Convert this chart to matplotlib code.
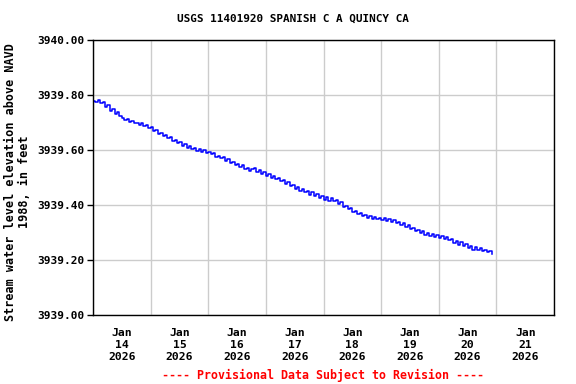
import matplotlib
matplotlib.use("Agg")
import matplotlib.pyplot as plt
import matplotlib.dates as mdates
from datetime import datetime, timedelta

title = "USGS 11401920 SPANISH C A QUINCY CA"
ylabel = "Stream water level elevation above NAVD\n1988, in feet"
footer = "---- Provisional Data Subject to Revision ----"

start_time = datetime(2026, 1, 14, 0, 0)
step_hours = 1
# hourly gage height readings (ft)
elevation = [
    3939.780, 3939.774, 3939.781, 3939.770, 3939.774, 3939.758, 3939.762, 3939.742,
    3939.750, 3939.732, 3939.740, 3939.722, 3939.718, 3939.710, 3939.712, 3939.702,
    3939.704, 3939.698, 3939.700, 3939.692, 3939.699, 3939.686, 3939.692, 3939.680,
    3939.684, 3939.670, 3939.672, 3939.658, 3939.662, 3939.650, 3939.654, 3939.642,
    3939.646, 3939.634, 3939.638, 3939.624, 3939.630, 3939.616, 3939.622, 3939.608,
    3939.614, 3939.602, 3939.608, 3939.596, 3939.604, 3939.594, 3939.600, 3939.588,
    3939.594, 3939.584, 3939.588, 3939.576, 3939.580, 3939.570, 3939.574, 3939.560,
    3939.568, 3939.552, 3939.558, 3939.544, 3939.550, 3939.538, 3939.544, 3939.530,
    3939.536, 3939.524, 3939.530, 3939.536, 3939.520, 3939.526, 3939.514, 3939.520,
    3939.506, 3939.512, 3939.500, 3939.506, 3939.494, 3939.498, 3939.486, 3939.490,
    3939.476, 3939.482, 3939.468, 3939.474, 3939.460, 3939.466, 3939.450, 3939.458,
    3939.446, 3939.452, 3939.438, 3939.446, 3939.432, 3939.440, 3939.426, 3939.434,
    3939.420, 3939.428, 3939.416, 3939.426, 3939.414, 3939.420, 3939.404, 3939.410,
    3939.392, 3939.398, 3939.384, 3939.390, 3939.374, 3939.380, 3939.366, 3939.372,
    3939.360, 3939.364, 3939.352, 3939.360, 3939.350, 3939.358, 3939.348, 3939.354,
    3939.346, 3939.352, 3939.342, 3939.350, 3939.338, 3939.344, 3939.334, 3939.340,
    3939.328, 3939.334, 3939.320, 3939.326, 3939.312, 3939.318, 3939.304, 3939.310,
    3939.298, 3939.304, 3939.292, 3939.300, 3939.288, 3939.296, 3939.284, 3939.292,
    3939.280, 3939.288, 3939.276, 3939.284, 3939.272, 3939.276, 3939.262, 3939.270,
    3939.256, 3939.264, 3939.250, 3939.258, 3939.244, 3939.252, 3939.238, 3939.248,
    3939.236, 3939.242, 3939.232, 3939.238, 3939.228, 3939.234, 3939.222,
]
times = [start_time + timedelta(hours=step_hours * i) for i in range(len(elevation))]

y_ticks = [3939.00, 3939.20, 3939.40, 3939.60, 3939.80, 3940.00]
x_start = datetime(2026, 1, 14)
x_end = datetime(2026, 1, 22)

font = "DejaVu Sans Mono"
fig = plt.figure(figsize=(5.76, 3.84), dpi=100)
ax = fig.add_axes([93 / 576, 69 / 384, 461 / 576, 275 / 384])

ax.plot(times, elevation, color="#0000ff", lw=1.1, drawstyle="steps-post")

ax.set_xlim(x_start, x_end)
ax.set_ylim(y_ticks[0], y_ticks[-1])
ax.set_yticks(y_ticks)
ax.set_yticklabels([f"{v:.2f}" for v in y_ticks], fontfamily=font, fontweight="bold", fontsize=8)
ax.tick_params(axis="y", length=4, width=1, pad=2)

ax.xaxis.set_major_locator(mdates.DayLocator())
ax.xaxis.set_major_formatter(plt.NullFormatter())
ax.xaxis.set_minor_locator(mdates.HourLocator(byhour=[12]))
ax.xaxis.set_minor_formatter(mdates.DateFormatter("%b\n%d\n%Y"))
ax.tick_params(axis="x", which="both", length=0, pad=9)
for lab in ax.xaxis.get_minorticklabels():
    lab.set_fontfamily(font)
    lab.set_fontweight("bold")
    lab.set_fontsize(8.2)
    lab.set_linespacing(1.25)

ax.grid(True, which="major", color="#cccccc", lw=1)
ax.set_axisbelow(True)
for s in ax.spines.values():
    s.set_linewidth(1)
    s.set_color("black")

ax.set_ylabel(ylabel, fontfamily=font, fontweight="bold", fontsize=8.5, linespacing=1.15)
ax.yaxis.set_label_coords(-0.134, 0.484)
fig.text(293 / 576, 1 - 19 / 384, title, ha="center", va="center",
         fontfamily=font, fontweight="bold", fontsize=7.9)
fig.text(323 / 576, 1 - 375 / 384, footer, ha="center", va="center",
         fontfamily=font, fontweight="bold", fontsize=8.4, color="#ff0000")

fig.savefig("out.png", dpi=100)
